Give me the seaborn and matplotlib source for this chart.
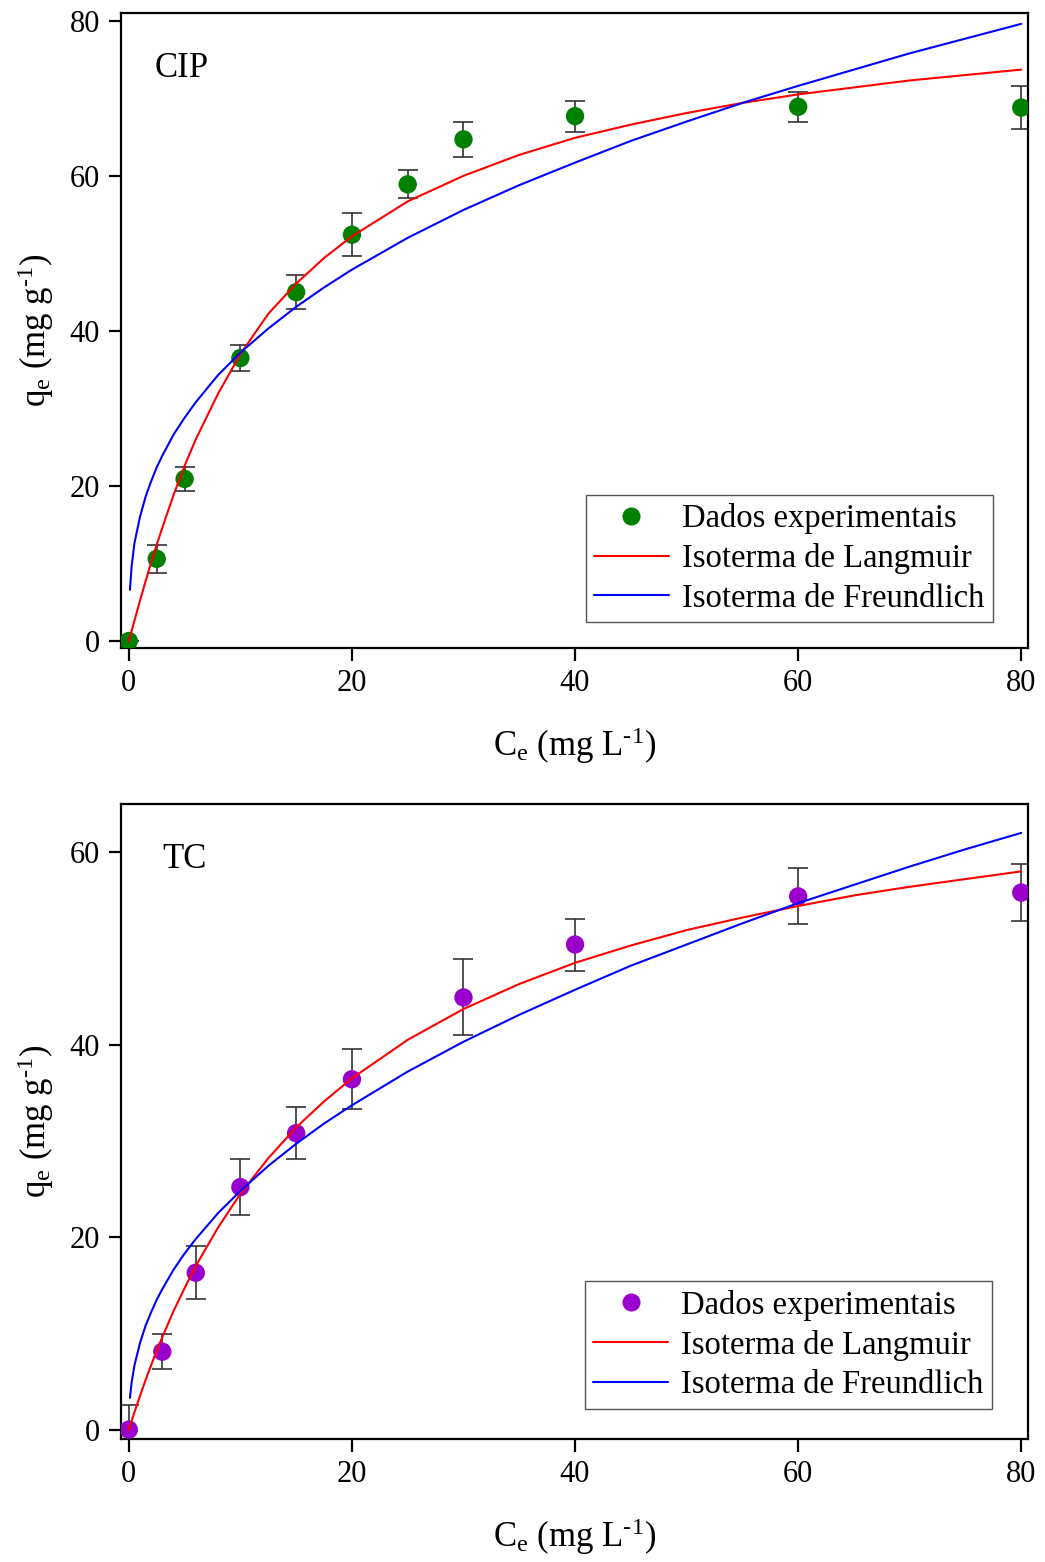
import numpy as np
import pandas as pd
import matplotlib
matplotlib.use("Agg")
import matplotlib.pyplot as plt
from matplotlib.lines import Line2D
import seaborn as sns

# ---------------- data ----------------
# CIP experimental
cip_x = [0, 2.5, 5, 10, 15, 20, 25, 30, 40, 60, 80]
cip_y = [0.0, 10.6, 20.9, 36.5, 45.0, 52.4, 58.9, 64.7, 67.7, 68.9, 68.8]
cip_err = [0.0, 1.8, 1.6, 1.65, 2.2, 2.8, 1.8, 2.3, 2.0, 1.95, 2.8]

# TC experimental
tc_x = [0, 3, 6, 10, 15, 20, 30, 40, 60, 80]
tc_y = [0.0, 8.1, 16.3, 25.2, 30.8, 36.4, 44.9, 50.4, 55.4, 55.8]
tc_err = [2.6, 1.85, 2.75, 2.95, 2.7, 3.1, 3.95, 2.7, 2.9, 2.95]

# fitted curves
fit_x = [0, 0.5, 1, 1.5, 2, 2.5, 3, 4, 5, 6, 8, 10, 12.5, 15, 17.5, 20,
         25, 30, 35, 40, 45, 50, 55, 60, 65, 70, 75, 80]
cip_lang = [0.0, 2.6, 5.2, 7.7, 10.1, 12.4, 14.6, 18.8, 22.6, 26.0, 31.9, 37.0,
            42.2, 46.1, 49.4, 52.2, 56.7, 60.0, 62.7, 64.9, 66.6, 68.1, 69.4,
            70.5, 71.4, 72.3, 73.0, 73.7]
frx = [0.1, 0.25, 0.5, 1, 1.5, 2, 2.5, 3, 4, 5, 6, 8, 10, 12.5, 15, 17.5, 20,
       25, 30, 35, 40, 45, 50, 55, 60, 65, 70, 75, 80]
cip_freu = [6.6, 9.6, 12.6, 16.0, 18.6, 20.6, 22.4, 23.9, 26.6, 28.8, 30.8, 34.3,
            37.2, 40.3, 43.1, 45.6, 47.9, 52.0, 55.6, 58.8, 61.7, 64.5, 67.0,
            69.4, 71.6, 73.7, 75.8, 77.7, 79.6]
tc_lang = [0.0, 1.8, 3.5, 5.15, 6.7, 8.2, 9.6, 12.3, 14.7, 17.0, 21.0, 24.5,
           28.2, 31.4, 34.1, 36.5, 40.5, 43.7, 46.3, 48.5, 50.3, 51.9, 53.2,
           54.4, 55.5, 56.4, 57.2, 58.0]
tc_freu = [3.3, 4.9, 6.65, 9.0, 10.8, 12.2, 13.5, 14.6, 16.6, 18.3, 19.8, 22.5,
           24.8, 27.4, 29.7, 31.8, 33.7, 37.2, 40.3, 43.1, 45.7, 48.2, 50.4,
           52.6, 54.7, 56.6, 58.5, 60.3, 62.0]

xticks = [0, 20, 40, 60, 80]
labels = ["Dados experimentais", "Isoterma de Langmuir", "Isoterma de Freundlich"]

# ---------------- style ----------------
sns.set_theme(style="ticks")
plt.rcParams["font.family"] = ["Liberation Serif", "DejaVu Serif"]
plt.rcParams["mathtext.fontset"] = "custom"
plt.rcParams["mathtext.rm"] = "Liberation Serif"
plt.rcParams["mathtext.it"] = "Liberation Serif:italic"
plt.rcParams["text.color"] = "black"
plt.rcParams["axes.labelcolor"] = "black"
plt.rcParams["axes.linewidth"] = 1.6
plt.rcParams["xtick.major.width"] = 1.6
plt.rcParams["ytick.major.width"] = 1.6
plt.rcParams["xtick.major.size"] = 9
plt.rcParams["ytick.major.size"] = 9
plt.rcParams["xtick.color"] = "black"
plt.rcParams["ytick.color"] = "black"
plt.rcParams["axes.edgecolor"] = "black"

fig = plt.figure(figsize=(10.45, 15.62), dpi=100)
L, R = 0.1158, 0.9837
ax1 = fig.add_axes([L, 0.58515, R - L, 0.99168 - 0.58515])
ax2 = fig.add_axes([L, 0.07875, R - L, 0.48528 - 0.07875])

panels = [
    (ax1, cip_x, cip_y, cip_err, cip_lang, cip_freu, "#008000", "CIP",
     (-0.7, 80.6), (-0.9, 81.0), [0, 20, 40, 60, 80], (0.0375, 0.913), (0.961, 0.041)),
    (ax2, tc_x, tc_y, tc_err, tc_lang, tc_freu, "#9900CC", "TC",
     (-0.7, 80.6), (-0.97, 65.0), [0, 20, 40, 60], (0.046, 0.912), (0.960, 0.048)),
]

xlab = r"C$_\mathrm{e}$ (mg L$^{\text{-1}}$)"
ylab = r"q$_\mathrm{e}$ (mg g$^{\text{-1}}$)"

for (ax, x, y, e, lang, freu, col, name, xl, yl, yt, tpos, lpos) in panels:
    ax.errorbar(x, y, yerr=e, fmt="none", ecolor="#333333", elinewidth=1.2,
                capsize=7, capthick=1.2, zorder=2)
    df = pd.DataFrame({"x": x, "y": y})
    sns.scatterplot(data=df, x="x", y="y", ax=ax, color=col, s=175,
                    edgecolor="none", linewidth=0, zorder=3, legend=False)
    dl = pd.DataFrame({"x": fit_x, "y": lang})
    df_ = pd.DataFrame({"x": frx, "y": freu})
    sns.lineplot(data=dl, x="x", y="y", ax=ax, color="#FF0000", lw=1.5,
                 sort=False, estimator=None, zorder=4)
    sns.lineplot(data=df_, x="x", y="y", ax=ax, color="#0000FF", lw=1.5,
                 sort=False, estimator=None, zorder=4)
    ax.set_xlim(*xl)
    ax.set_ylim(*yl)
    ax.set_xticks(xticks)
    ax.set_yticks(yt)
    ax.tick_params(axis="both", direction="out", labelsize=22, pad=6,
                   top=False, right=False, colors="black")
    ax.set_xlabel(xlab, fontsize=25, labelpad=20)
    ax.set_ylabel(ylab, fontsize=25, labelpad=10)
    for s in ax.spines.values():
        s.set_visible(True)
        s.set_color("black")
        s.set_linewidth(1.6)
    ax.text(tpos[0], tpos[1], name, transform=ax.transAxes, fontsize=25,
            ha="left", va="center", color="black")
    handles = [
        Line2D([], [], ls="none", marker="o", ms=13, color=col, mec="none"),
        Line2D([], [], color="#FF0000", lw=1.5),
        Line2D([], [], color="#0000FF", lw=1.5),
    ]
    leg = ax.legend(handles, labels, loc="lower right", bbox_to_anchor=lpos,
                    bbox_transform=ax.transAxes, borderaxespad=0, fontsize=23.5,
                    frameon=True, fancybox=False, framealpha=1,
                    edgecolor="#555555", handlelength=2.3, handletextpad=0.4,
                    labelspacing=0.28, borderpad=0.25)
    leg.get_frame().set_linewidth(1.0)
    for t in leg.get_texts():
        t.set_color("black")

fig.savefig("out.png", dpi=100)
